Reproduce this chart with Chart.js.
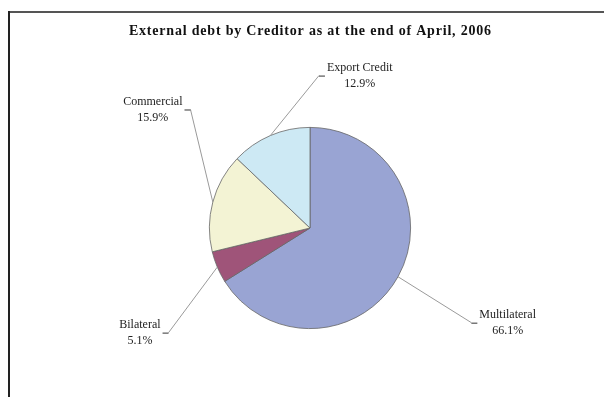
<!DOCTYPE html>
<html lang="en">

<head>
  <meta charset="UTF-8">
  <title>External debt by Creditor</title>
  <script src="https://cdn.jsdelivr.net/npm/chart.js@4.4.0/dist/chart.umd.min.js"></script>
  <style>
    body { margin: 0; background: #fff; }
    #wrap { position: relative; width: 604px; height: 397px; }
  </style>
</head>

<body>
  <div id="wrap"><canvas id="chart"></canvas></div>
  <script>
    // creditor shares of external debt, end of April 2006
    const chartTitle = 'External debt by Creditor as at the end of April, 2006';
    const categories = ['Multilateral', 'Bilateral', 'Commercial', 'Export Credit'];
    const shares = [66.1, 5.1, 15.9, 12.9];
    const sliceColors = ['#99a4d3', '#9f5479', '#f3f3d4', '#cde9f4'];

    // where each label's leader ends, in radii from the pie centre, and which way the tick points
    const labelSpots = [
      [1.604, 0.941, 1],
      [-1.406, 1.04, -1],
      [-1.188, -1.178, -1],
      [0.089, -1.515, 1]
    ];

    const serif = '"Liberation Serif", "Times New Roman", serif';

    // border box and the spaced-out bold title
    const frame = {
      id: 'frame',
      beforeDraw(chart) {
        const ctx = chart.ctx;
        const area = chart.chartArea;
        ctx.save();
        ctx.fillStyle = '#555';
        ctx.fillRect(8, 11, chart.width - 8, 2);
        ctx.fillStyle = '#222';
        ctx.fillRect(8, 11, 2, chart.height - 11);

        ctx.font = 'bold 14px ' + serif;
        ctx.letterSpacing = '0.8px';
        ctx.textAlign = 'center';
        ctx.textBaseline = 'middle';
        ctx.fillStyle = '#111';
        ctx.fillText(chartTitle, (area.left + area.right) / 2 + 0.4, 31);
        ctx.restore();
      }
    };

    const leaders = {
      id: 'leaders',
      afterDatasetsDraw(chart) {
        const ctx = chart.ctx;
        const arcs = chart.getDatasetMeta(0).data;
        ctx.save();
        ctx.font = '12px ' + serif;
        ctx.textAlign = 'center';
        ctx.textBaseline = 'middle';
        arcs.forEach((arc, i) => {
          const p = arc.getProps(['x', 'y', 'startAngle', 'endAngle', 'outerRadius'], true);
          const mid = (p.startAngle + p.endAngle) / 2;
          const r = p.outerRadius;
          const ex = p.x + Math.cos(mid) * r;
          const ey = p.y + Math.sin(mid) * r;
          const [ox, oy, side] = labelSpots[i];
          const ax = p.x + ox * r;
          const ay = p.y + oy * r;

          ctx.strokeStyle = '#9a9a9a';
          ctx.lineWidth = 1;
          ctx.beginPath();
          ctx.moveTo(ex, ey);
          ctx.lineTo(ax, ay);
          ctx.stroke();

          ctx.strokeStyle = '#333';
          ctx.beginPath();
          ctx.moveTo(ax, ay + 0.5);
          ctx.lineTo(ax + side * 6, ay + 0.5);
          ctx.stroke();

          const lines = [categories[i], shares[i].toFixed(1) + '%'];
          const w = Math.max(...lines.map(t => ctx.measureText(t).width));
          const cx = ax + side * (8 + w / 2);
          ctx.fillStyle = '#222';
          ctx.fillText(lines[0], cx, ay - 8);
          ctx.fillText(lines[1], cx, ay + 8);
        });
        ctx.restore();
      }
    };

    new Chart(document.getElementById('chart'), {
      type: 'pie',
      data: {
        labels: categories,
        datasets: [{
          data: shares,
          backgroundColor: sliceColors,
          borderColor: '#666',
          borderWidth: 0.8
        }]
      },
      options: {
        responsive: true,
        maintainAspectRatio: false,
        animation: false,
        layout: { padding: { top: 127, left: 100, right: 84, bottom: 68 } },
        plugins: {
          legend: { display: false },
          tooltip: { enabled: false },
          title: { display: false }
        }
      },
      plugins: [frame, leaders]
    });
  </script>
</body>

</html>
